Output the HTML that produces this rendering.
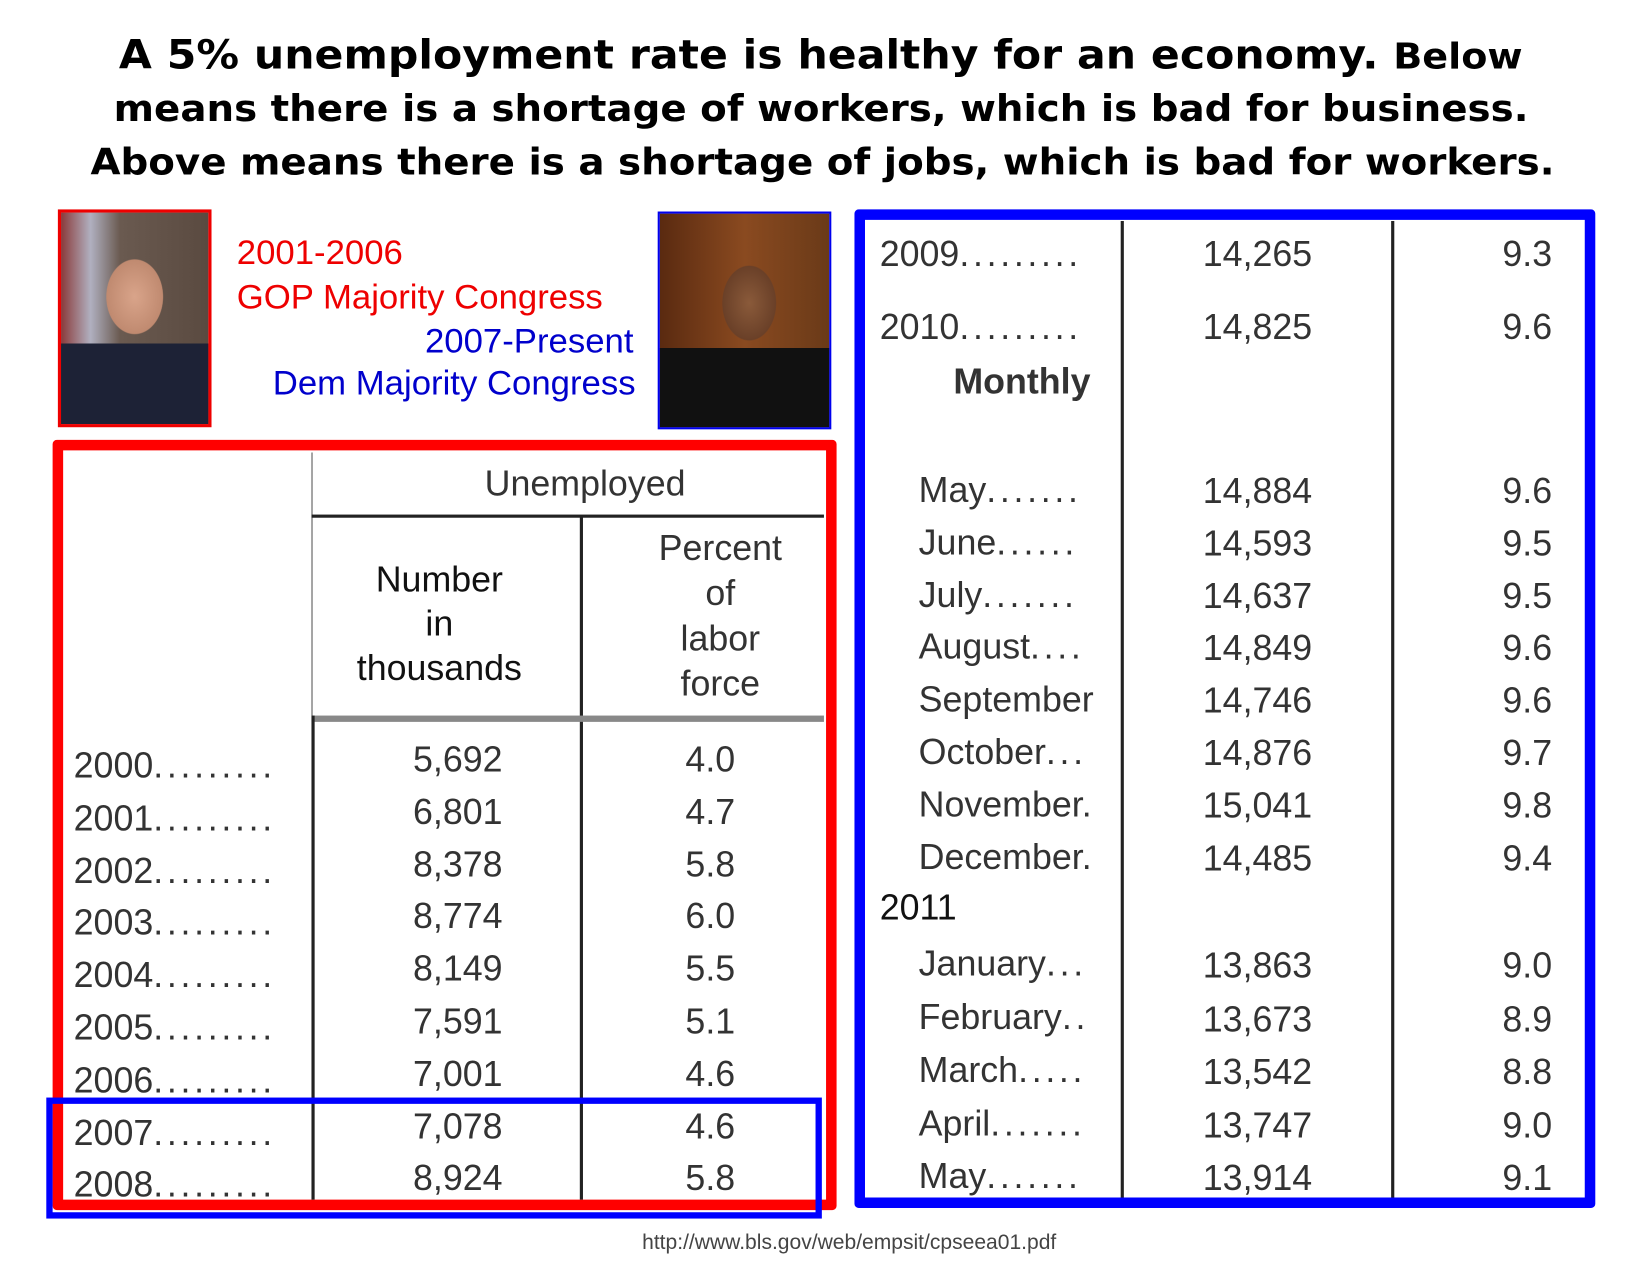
<!DOCTYPE html>
<html><head><meta charset="utf-8">
<style>
html,body{margin:0;padding:0;background:#fff;width:1650px;height:1275px;overflow:hidden}
#w{position:absolute;left:0;top:0;width:1568px;height:1212px;transform:scale(1.0523);transform-origin:0 0;font-family:"Liberation Sans",sans-serif}
.a{position:absolute;white-space:nowrap}
.t{position:absolute;white-space:nowrap;font-family:"DejaVu Sans",sans-serif;font-weight:bold;color:#000;font-size:38px;line-height:44px;transform-origin:0 50%}
.c{color:#333;font-size:34px;line-height:40px}
.l{position:absolute;background:#222}
i{font-style:normal;letter-spacing:3.5px}
</style></head><body>
<div id="w">
<div class="t" data-x="113" data-w="1334" style="top:30px">A 5% unemployment rate is healthy for an economy. <span style="font-size:34px">Below</span></div>
<div class="t" data-x="108" data-w="1344" style="top:82px;font-size:35px">means there is a shortage of workers, which is bad for business.</div>
<div class="t" data-x="86" data-w="1391" style="top:133px;font-size:35px">Above means there is a shortage of jobs, which is bad for workers.</div>

<div class="a" style="left:55px;top:199px;width:140px;height:201px;border:3px solid #e00;background:radial-gradient(ellipse 38px 50px at 70px 80px,#d9a48a 0,#c08a70 70%,transparent 72%),linear-gradient(180deg,transparent 0,transparent 62%,#1d2236 62%),linear-gradient(90deg,#8a3a3a 0,#b0b0c0 20%,#6a5a50 40%,#5a4a40 100%)"></div>
<div class="a" style="left:225px;top:220px;font-size:33px;color:#e00;line-height:40px">2001-2006</div>
<div class="a" style="left:225px;top:262px;font-size:33px;color:#e00;line-height:40px">GOP Majority Congress</div>
<div class="a" style="right:966px;top:304px;font-size:33px;color:#00c;line-height:40px">2007-Present</div>
<div class="a" style="right:964px;top:344px;font-size:33px;color:#00c;line-height:40px">Dem Majority Congress</div>
<div class="a" style="left:625px;top:201px;width:161px;height:203px;border:2px solid #00e;background:radial-gradient(ellipse 36px 50px at 85px 85px,#8a5a3a 0,#6a4028 70%,transparent 72%),linear-gradient(180deg,transparent 0,transparent 63%,#111 63%),linear-gradient(90deg,#5a2a10,#8a4a20 50%,#6a3a18)"></div>

<div class="a" style="left:50px;top:418px;width:725px;height:712px;border:10px solid #f00;border-radius:4px"></div>
<div class="l" style="left:296px;top:430px;width:1px;height:710px;background:#555"></div>
<div class="l" style="left:296px;top:489px;width:487px;height:3px"></div>
<div class="l" style="left:551px;top:490px;width:3px;height:650px"></div>
<div class="l" style="left:296px;top:680px;width:487px;height:6px;background:#888"></div>
<div class="l" style="left:296px;top:680px;width:3px;height:460px"></div>
<div class="a c" style="left:296px;width:520px;text-align:center;top:440px">Unemployed</div>
<div class="a c" style="left:290px;width:255px;text-align:center;top:530px;line-height:42px;white-space:normal;color:#111">Number<br>in<br>thousands</div>
<div class="a c" style="left:570px;width:229px;text-align:center;top:500px;line-height:43px;white-space:normal">Percent<br>of<br>labor<br>force</div>

<div class="a c" style="left:70px;top:704px;line-height:49.8px">2000<i>.........</i><br>2001<i>.........</i><br>2002<i>.........</i><br>2003<i>.........</i><br>2004<i>.........</i><br>2005<i>.........</i><br>2006<i>.........</i><br>2007<i>.........</i><br>2008<i>.........</i></div>
<div class="a c" style="left:360px;width:150px;text-align:center;top:698px;line-height:49.8px">5,692<br>6,801<br>8,378<br>8,774<br>8,149<br>7,591<br>7,001<br>7,078<br>8,924</div>
<div class="a c" style="left:600px;width:150px;text-align:center;top:698px;line-height:49.8px">4.0<br>4.7<br>5.8<br>6.0<br>5.5<br>5.1<br>4.6<br>4.6<br>5.8</div>
<div class="a" style="left:44px;top:1043px;width:725px;height:103px;border:6px solid #00f"></div>

<div class="a" style="left:812px;top:199px;width:684px;height:929px;border:10px solid #00f;border-radius:4px"></div>
<div class="l" style="left:1065px;top:210px;width:3px;height:928px"></div>
<div class="l" style="left:1322px;top:210px;width:3px;height:928px"></div>
<div class="a c" style="left:836px;top:222px">2009<i>.........</i></div>
<div class="a c" style="left:836px;top:291px">2010<i>.........</i></div>
<div class="a c" style="left:906px;top:343px;font-weight:bold">Monthly</div>
<div class="a c" style="left:873px;top:442px;line-height:49.8px">May<i>.......</i><br>June<i>......</i><br>July<i>.......</i><br>August<i>....</i><br>September<br>October<i>...</i><br>November.<br>December.</div>
<div class="a c" style="left:836px;top:843px;color:#111">2011</div>
<div class="a c" style="left:873px;top:891px;line-height:50.5px">January<i>...</i><br>February<i>..</i><br>March<i>.....</i><br>April<i>.......</i><br>May<i>.......</i></div>
<div class="a c" style="left:1120px;width:150px;text-align:center;top:222px">14,265</div>
<div class="a c" style="left:1120px;width:150px;text-align:center;top:291px">14,825</div>
<div class="a c" style="left:1120px;width:150px;text-align:center;top:443px;line-height:49.8px">14,884<br>14,593<br>14,637<br>14,849<br>14,746<br>14,876<br>15,041<br>14,485</div>
<div class="a c" style="left:1120px;width:150px;text-align:center;top:893px;line-height:50.5px">13,863<br>13,673<br>13,542<br>13,747<br>13,914</div>
<div class="a c" style="left:1340px;width:135px;text-align:right;top:222px">9.3</div>
<div class="a c" style="left:1340px;width:135px;text-align:right;top:291px">9.6</div>
<div class="a c" style="left:1340px;width:135px;text-align:right;top:443px;line-height:49.8px">9.6<br>9.5<br>9.5<br>9.6<br>9.6<br>9.7<br>9.8<br>9.4</div>
<div class="a c" style="left:1340px;width:135px;text-align:right;top:893px;line-height:50.5px">9.0<br>8.9<br>8.8<br>9.0<br>9.1</div>

<div class="a" style="left:0;width:1614px;text-align:center;top:1170px;font-size:20px;color:#444">http://www.bls.gov/web/empsit/cpseea01.pdf</div>
</div>
<script>
document.querySelectorAll('.t').forEach(function(e){
 var tw=+e.dataset.w,x=+e.dataset.x,w=e.offsetWidth;
 e.style.left=x+'px';e.style.transform='scaleX('+(tw/w)+')';
});
</script>
</body></html>
